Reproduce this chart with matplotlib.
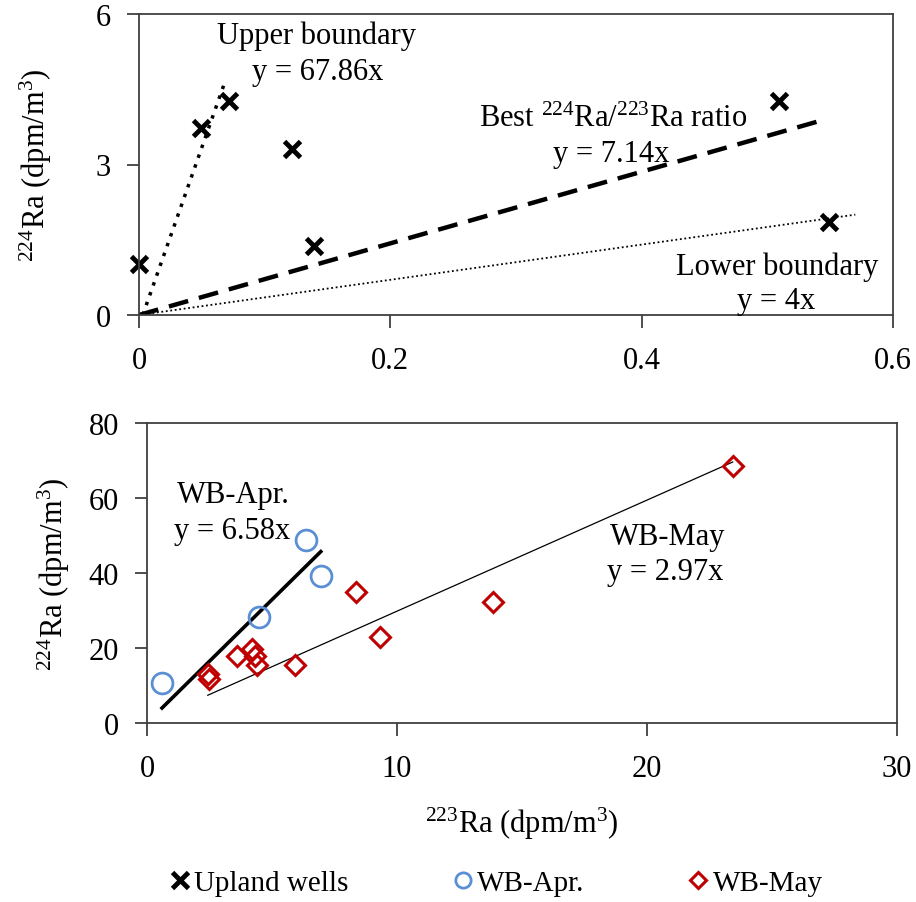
import matplotlib
matplotlib.use('Agg')
import matplotlib.pyplot as plt
from matplotlib.lines import Line2D

plt.rcParams['font.family'] = ['Liberation Serif', 'DejaVu Serif']
plt.rcParams['mathtext.fontset'] = 'custom'
plt.rcParams['mathtext.rm'] = 'Liberation Serif'
plt.rcParams['mathtext.it'] = 'Liberation Serif:italic'

# Obere Grafik: Upland wells
upland_x = [0.0, 0.049, 0.072, 0.122, 0.139, 0.509, 0.549]
upland_y = [1.02, 3.72, 4.27, 3.31, 1.38, 4.27, 1.86]

# Linien (Endpunkte)
upper_x = [0.003, 0.068]
upper_y = [0.0, 4.62]
best_x = [0.0, 0.542]
best_y = [0.0, 3.87]
lower_x = [0.0, 0.57]
lower_y = [0.0, 2.0]

# Untere Grafik: Wasserproben
apr_x = [0.61, 4.48, 6.36, 6.95]
apr_y = [10.6, 28.2, 48.9, 39.3]
may_x = [2.45, 2.48, 3.61, 4.2, 4.3, 4.4, 5.91, 8.36, 9.32, 13.83, 23.43]
may_y = [13.1, 11.7, 17.8, 19.8, 18.0, 15.5, 15.6, 35.0, 22.9, 32.2, 68.6]

apr_fit_x = [0.6, 6.95]
apr_fit_y = [4.0, 45.7]
may_fit_x = [2.43, 23.43]
may_fit_y = [7.4, 69.6]

blue = '#5B8FD5'
red = '#C00000'
spine_col = '#404040'
fs = 22

fig = plt.figure(figsize=(9.16, 9.03), dpi=100)
W, H = 916, 903
ax1 = fig.add_axes([139 / W, (H - 316) / H, (893 - 139) / W, (316 - 15) / H])
ax2 = fig.add_axes([147 / W, (H - 724) / H, (897 - 147) / W, (724 - 424) / H])

for ax in (ax1, ax2):
    for s in ax.spines.values():
        s.set_color(spine_col)
        s.set_linewidth(1.3)
    ax.tick_params(direction='out', length=9, width=1.3, color=spine_col,
                   labelsize=fs, pad=11)

# Plot 1
ax1.plot(upper_x, upper_y, color='black', linestyle=(0, (1, 2)), linewidth=2.5)
ax1.plot(best_x, best_y, color='black', linestyle=(0, (4.5, 2.5)), linewidth=3.2)
ax1.plot(lower_x, lower_y, color='black', linestyle=(0, (1, 1.5)), linewidth=1.3)
ax1.plot(upland_x, upland_y, linestyle='none', marker='x', color='black',
         markersize=12, markeredgewidth=3.5, clip_on=False)
ax1.set_xlim(0, 0.6)
ax1.set_ylim(0, 6)
ax1.set_xticks([0, 0.2, 0.4, 0.6])
ax1.set_xticklabels(['0', '0.2', '0.4', '0.6'])
ax1.set_yticks([0, 3, 6])
ax1.tick_params(axis='x', pad=13)
ax1.set_ylabel('$^{224}$Ra (dpm/m$^{3}$)', fontsize=fs, labelpad=30)

ax1.text(0.141, 5.58, 'Upper boundary', fontsize=fs, ha='center', va='center')
ax1.text(0.142, 4.86, 'y = 67.86x', fontsize=fs, ha='center', va='center')
ax1.text(0.377, 3.91, 'Best $^{224}$Ra/$^{223}$Ra ratio', fontsize=fs,
         ha='center', va='center')
ax1.text(0.376, 3.21, 'y = 7.14x', fontsize=fs, ha='center', va='center')
ax1.text(0.508, 0.98, 'Lower boundary', fontsize=fs, ha='center', va='center')
ax1.text(0.507, 0.29, 'y = 4x', fontsize=fs, ha='center', va='center')

# Plot 2
ax2.plot(apr_fit_x, apr_fit_y, color='black', linewidth=2.6)
ax2.plot(may_fit_x, may_fit_y, color='black', linewidth=0.9)
ax2.plot(apr_x, apr_y, linestyle='none', marker='o', markerfacecolor='none',
         markeredgecolor=blue, markersize=15, markeredgewidth=2)
ax2.plot(may_x, may_y, linestyle='none', marker='D', markerfacecolor='none',
         markeredgecolor=red, markersize=10.5, markeredgewidth=2.2)
ax2.set_xlim(0, 30)
ax2.set_ylim(0, 80)
ax2.set_xticks([0, 10, 20, 30])
ax2.set_yticks([0, 20, 40, 60, 80])
ax2.tick_params(axis='x', pad=13)
ax2.set_ylabel('$^{224}$Ra (dpm/m$^{3}$)', fontsize=fs, labelpad=12)
ax2.set_xlabel('$^{223}$Ra (dpm/m$^{3}$)', fontsize=fs, labelpad=16)

ax2.text(1.2, 60.9, 'WB-Apr.', fontsize=fs, ha='left', va='center')
ax2.text(1.1, 51.3, 'y = 6.58x', fontsize=fs, ha='left', va='center')
ax2.text(18.5, 49.6, 'WB-May', fontsize=fs, ha='left', va='center')
ax2.text(18.4, 40.3, 'y = 2.97x', fontsize=fs, ha='left', va='center')

# Legende
handles = [
    Line2D([], [], linestyle='none', marker='x', color='black',
           markersize=11, markeredgewidth=3.5),
    Line2D([], [], linestyle='none', marker='o', markerfacecolor='none',
           markeredgecolor=blue, markersize=11, markeredgewidth=2),
    Line2D([], [], linestyle='none', marker='D', markerfacecolor='none',
           markeredgecolor=red, markersize=8, markeredgewidth=2.2),
]
fig.legend(handles, ['Upland wells', 'WB-Apr.', 'WB-May'], loc='center',
           bbox_to_anchor=(497 / W, (H - 884) / H), ncol=3, frameon=False,
           fontsize=21, handlelength=0.6, handletextpad=0.2,
           columnspacing=3.6)

plt.savefig('out.png', dpi=100)
